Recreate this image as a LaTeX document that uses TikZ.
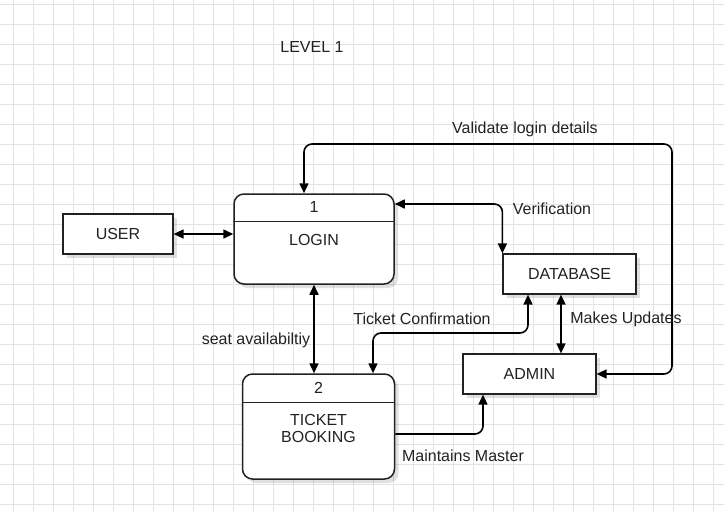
\documentclass[tikz,border=0pt]{standalone}
\usepackage{fontspec}
\setmainfont{Liberation Sans}
\usetikzlibrary{arrows.meta,shadows,positioning}
\definecolor{gridgray}{HTML}{E4E4E4}
\definecolor{inkgray}{HTML}{222222}

\begin{document}
\begin{tikzpicture}[x=1pt,y=-1pt,>={Triangle[length=10pt,width=9pt]},
  every node/.append style={font=\fontsize{16}{17}\selectfont,text=inkgray,align=center},
  shade/.style={drop shadow={shadow xshift=4pt,shadow yshift=-4pt,opacity=0.12,fill=black}},
  ext/.style={draw=inkgray,line width=1.2pt,fill=white,shade,minimum width=110pt,minimum height=40pt,inner sep=0pt},
  proc/.style={draw=inkgray,line width=1.5pt,fill=white,rounded corners=10pt,shade,inner sep=0pt},
  divider/.style={draw=inkgray,line width=1.2pt},
  flow/.style={line width=1.6pt,draw=black,rounded corners=8pt},
  gridline/.style={draw=gridgray,line width=0.7pt}]
    \useasboundingbox[fill=white] (0,0) rectangle (724,512);
    % background grid
    \foreach \gx in {13,33,...,713} \draw[gridline] (\gx,0) -- (\gx,512);
    \foreach \gy in {4,24,...,504} \draw[gridline] (0,\gy) -- (724,\gy);

    \node (level) at (312,47) {LEVEL 1};

    % entities and processes
    \node[ext] (user) at (118,234) {USER};
    \node[proc,minimum width=160pt,minimum height=90pt] (login) at (314,239) {};
    \draw[divider] ([yshift=-28pt]login.north west) -- ([yshift=-28pt]login.north east);
    \node (loginnum) at (314,207) {1};
    \node (logintxt) at (314,240) {LOGIN};
    \node[ext,minimum width=133pt] (database) at (569.5,274) {DATABASE};
    \node[ext,minimum width=133pt] (admin) at (529.5,374) {ADMIN};
    \node[proc,minimum width=152pt,minimum height=105pt] (ticket) at (318.5,426.5) {};
    \draw[divider] ([yshift=-29pt]ticket.north west) -- ([yshift=-29pt]ticket.north east);
    \node (ticketnum) at (318.5,388) {2};
    \node (tickettxt) at (318.5,428) {TICKET\\BOOKING};

    % data flows
    \coordinate (valtop) at (672,144);
    \coordinate (tcmid) at (450,333);
    \draw[flow,<->] ([xshift=-10pt]login.north) |- (valtop) |- (admin.east);
    \draw[flow,<->] ([yshift=35pt]login.east) -| (database.north west);
    \draw[flow,<->] (user.east) -- (user.east -| login.west);
    \draw[flow,<->] (login.south) -- (login.south |- ticket.north);
    \draw[flow,<->] ([xshift=-41.5pt]database.south) |- (tcmid) -| ([xshift=54.5pt]ticket.north);
    \draw[flow,<->] ([xshift=-8.5pt]database.south) -- ([xshift=31.5pt]admin.north);
    \draw[flow,->] ([yshift=-7.5pt]ticket.east) -| ([xshift=-46.5pt]admin.south);

    % flow labels
    \node (vallbl) at (525,129) {Validate login details};
    \node (verlbl) at (552,209) {Verification};
    \node (seatlbl) at (256,340) {seat availabiltiy};
    \node (conflbl) at (422,319) {Ticket Confirmation};
    \node (updlbl) at (626,319) {Makes Updates};
    \node (mastlbl) at (463,456) {Maintains Master};
\end{tikzpicture}
\end{document}
